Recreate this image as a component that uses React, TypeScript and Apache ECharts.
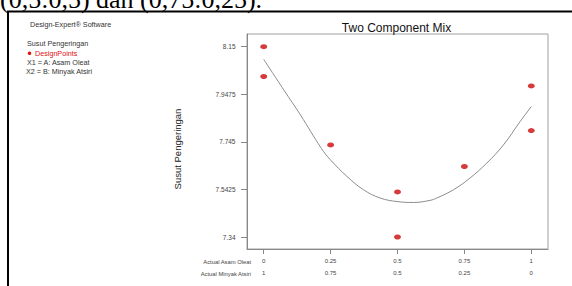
import React, { useEffect, useRef } from "react";
import * as echarts from "echarts";

// Tick values and labels
const xTickValues = [0, 0.25, 0.5, 0.75, 1];
const xTicksA = ["0", "0.25", "0.5", "0.75", "1"];
const xTicksB = ["1", "0.75", "0.5", "0.25", "0"];
const yTickValues = [7.34, 7.5425, 7.745, 7.9475, 8.15];
const yTickLabels = ["7.34", "7.5425", "7.745", "7.9475", "8.15"];

// Design points (A fraction, response)
const pointA = [0, 0, 0.25, 0.5, 0.5, 0.75, 1, 1];
const pointY = [8.15, 8.023, 7.732, 7.532, 7.34, 7.64, 7.983, 7.793];

// Fitted curve
const curveA = [0, 0.075, 0.137, 0.215, 0.249, 0.311, 0.373, 0.435, 0.498, 0.56, 0.622, 0.647, 0.709, 0.771, 0.834, 0.896, 0.958, 1];
const curveY = [8.096, 7.966, 7.86, 7.718, 7.669, 7.598, 7.541, 7.506, 7.491, 7.487, 7.496, 7.506, 7.541, 7.591, 7.655, 7.732, 7.831, 7.895];

const SANS = "Liberation Sans, Arial, sans-serif";

function nearestIndex(arr: number[], v: number) {
  let best = 0;
  let d = Infinity;
  arr.forEach((a, i) => {
    const dd = Math.abs(a - v);
    if (dd < d) {
      d = dd;
      best = i;
    }
  });
  return best;
}

export default function App() {
  const ref = useRef<HTMLDivElement>(null);
  useEffect(() => {
    if (!ref.current) return;
    const chart = echarts.init(ref.current, undefined, { renderer: "svg" });
    const txt = (text: string, x: number, y: number, extra: any = {}) => ({
      type: "text",
      x,
      y,
      silent: true,
      style: {
        text,
        fill: "#333",
        fontSize: 7.2,
        fontFamily: SANS,
        align: "left",
        verticalAlign: "middle",
        ...extra,
      },
    });
    chart.setOption({
      animation: false,
      backgroundColor: "#fff",
      grid: {
        left: 247,
        top: 34,
        width: 301,
        height: 215,
        show: true,
        borderColor: "#a0a0a0",
        borderWidth: 1,
        containLabel: false,
      },
      xAxis: {
        type: "value",
        min: -0.0625,
        max: 1.0625,
        splitLine: { show: false },
        axisLine: { show: true, onZero: false, lineStyle: { color: "#888", width: 1 } },
        axisTick: {
          show: true,
          customValues: xTickValues,
          length: 5,
          lineStyle: { color: "#888" },
        },
        axisLabel: {
          customValues: xTickValues,
          margin: 6,
          fontSize: 6,
          lineHeight: 12.3,
          color: "#444",
          fontFamily: SANS,
          formatter: (v: number) => {
            const i = nearestIndex(xTickValues, v);
            return xTicksA[i] + "\n" + xTicksB[i];
          },
        },
      },
      yAxis: {
        type: "value",
        min: 7.289,
        max: 8.204,
        splitLine: { show: false },
        axisLine: { show: true, onZero: false, lineStyle: { color: "#888", width: 1 } },
        axisTick: {
          show: true,
          customValues: yTickValues,
          length: 6,
          lineStyle: { color: "#888" },
        },
        axisLabel: {
          customValues: yTickValues,
          margin: 11.5,
          fontSize: 6.5,
          color: "#444",
          fontFamily: SANS,
          formatter: (v: number) => yTickLabels[nearestIndex(yTickValues, v)],
        },
      },
      series: [
        {
          type: "line",
          data: curveA.map((a, i) => [a, curveY[i]]),
          smooth: 0.4,
          showSymbol: false,
          symbol: "none",
          lineStyle: { color: "#8c8c8c", width: 1 },
          silent: true,
          z: 2,
        },
        {
          type: "scatter",
          data: pointA.map((a, i) => [a, pointY[i]]),
          symbol: "circle",
          symbolSize: [7, 5],
          itemStyle: { color: "#cc0a0a" },
          clip: false,
          silent: true,
          z: 3,
        },
      ],
      graphic: [
        {
          type: "rect",
          silent: true,
          shape: { x: 8, y: 11.5, width: 620, height: 320 },
          style: { fill: "none", stroke: "#000", lineWidth: 2 },
        },
        txt("(0,5:0,5) dan (0,75:0,25).", 0, -1, {
          fontSize: 26,
          fontFamily: "Liberation Serif, Times New Roman, serif",
          fill: "#000",
        }),
        txt("Design-Expert® Software", 30, 24),
        txt("Susut Pengeringan", 27, 43.3),
        {
          type: "circle",
          silent: true,
          shape: { cx: 29.5, cy: 53.3, r: 1.8 },
          style: { fill: "#e01010" },
        },
        txt("DesignPoints", 35, 53.3, { fill: "#e01010" }),
        txt("X1 = A: Asam Oleat", 27, 62.7),
        txt("X2 = B: Minyak Atsiri", 26, 71),
        txt("Two Component Mix", 396.5, 27.5, {
          fontSize: 12,
          align: "center",
          fill: "#111",
        }),
        {
          type: "text",
          x: 177,
          y: 149,
          rotation: Math.PI / 2,
          silent: true,
          style: {
            text: "Susut Pengeringan",
            fill: "#222",
            fontSize: 9.5,
            fontFamily: SANS,
            align: "center",
            verticalAlign: "middle",
          },
        },
        txt("Actual Asam Oleat", 251, 261.7, { fontSize: 5.8, align: "right", fill: "#444" }),
        txt("Actual Minyak Atsiri", 251, 274, { fontSize: 5.8, align: "right", fill: "#444" }),
      ],
    });
    return () => chart.dispose();
  }, []);
  return (
    <div
      ref={ref}
      style={{ position: "fixed", left: 0, top: 0, width: 572, height: 286, background: "#fff" }}
    />
  );
}
